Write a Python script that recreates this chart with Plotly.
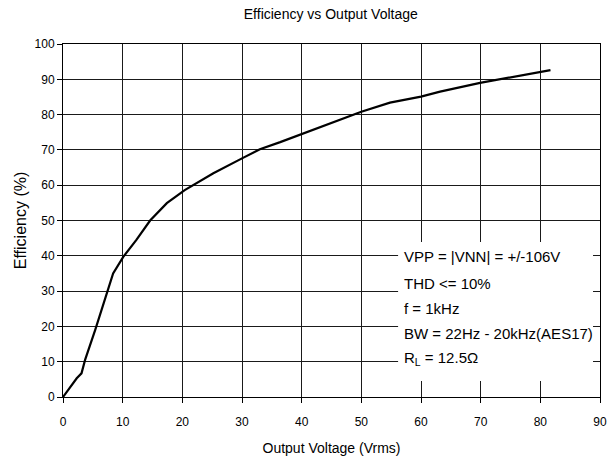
import plotly.graph_objects as go

# Data
voltage = [0, 2.3, 3.1, 3.7, 5.4, 7.3, 8.4, 10.1, 12.3, 14.6, 17.4, 20.4, 25.2, 30.0,
           33.0, 36.4, 40.0, 43.1, 45.3, 50.0, 54.8, 60.0, 63.2, 69.9, 81.7]
efficiency = [0, 5.3, 6.7, 10.5, 19, 29.4, 35, 39.7, 44.5, 50, 54.9, 58.6, 63.4, 67.6,
              70.2, 72.2, 74.5, 76.6, 78.0, 80.8, 83.4, 85.1, 86.5, 89.0, 92.6]

x_ticks = [0, 10, 20, 30, 40, 50, 60, 70, 80, 90]
y_ticks = [0, 10, 20, 30, 40, 50, 60, 70, 80, 90, 100]

note_lines = [
    "VPP = |VNN| = +/-106V",
    "THD <= 10%",
    "f = 1kHz",
    "BW = 22Hz - 20kHz(AES17)",
    "R<sub>L</sub> = 12.5Ω",
]

FONT = "Liberation Sans, Arial, sans-serif"

fig = go.Figure()
fig.add_trace(go.Scatter(x=voltage, y=efficiency, mode="lines",
                         line=dict(color="black", width=2.2),
                         showlegend=False, hoverinfo="skip"))

axis_common = dict(showgrid=True, gridcolor="#1a1a1a", gridwidth=1,
                   showline=True, linecolor="black", linewidth=1, mirror=True,
                   ticks="outside", ticklen=5, tickcolor="black", tickwidth=1,
                   zeroline=False, automargin=False,
                   tickfont=dict(family=FONT, size=12, color="black"))

fig.update_layout(
    width=607, height=461,
    margin=dict(l=63, r=7, t=44, b=64),
    paper_bgcolor="white", plot_bgcolor="white",
    font=dict(family=FONT, color="black"),
    title=dict(text="Efficiency vs Output Voltage", x=0.545, xanchor="center",
               y=0.970, yanchor="middle", font=dict(family=FONT, size=14, color="black")),
    xaxis=dict(range=[0, 90], tickvals=x_ticks, ticktext=[str(v) for v in x_ticks],
               ticklabelstandoff=9,
               title=dict(text="Output Voltage (Vrms)", font=dict(family=FONT, size=14), standoff=14),
               **axis_common),
    yaxis=dict(range=[0, 100], tickvals=y_ticks, ticktext=[str(v) for v in y_ticks],
               title=dict(text="Efficiency (%)", font=dict(family=FONT, size=16), standoff=3),
               **axis_common),
)

fig.add_shape(type="rect", xref="paper", yref="paper", x0=0.624, x1=0.987, y0=0.045, y1=0.439,
              fillcolor="white", line=dict(width=0), layer="above")

y_pos = [0.397, 0.322, 0.251, 0.180, 0.110]
for txt, yp in zip(note_lines, y_pos):
    fig.add_annotation(text=txt, xref="paper", yref="paper", x=0.631, y=yp,
                       xanchor="left", yanchor="middle", showarrow=False,
                       font=dict(family=FONT, size=15, color="black"))

fig.write_html("out.html", config={"displayModeBar": False},
               post_script="document.body.style.margin='0';document.body.style.overflow='hidden';")
